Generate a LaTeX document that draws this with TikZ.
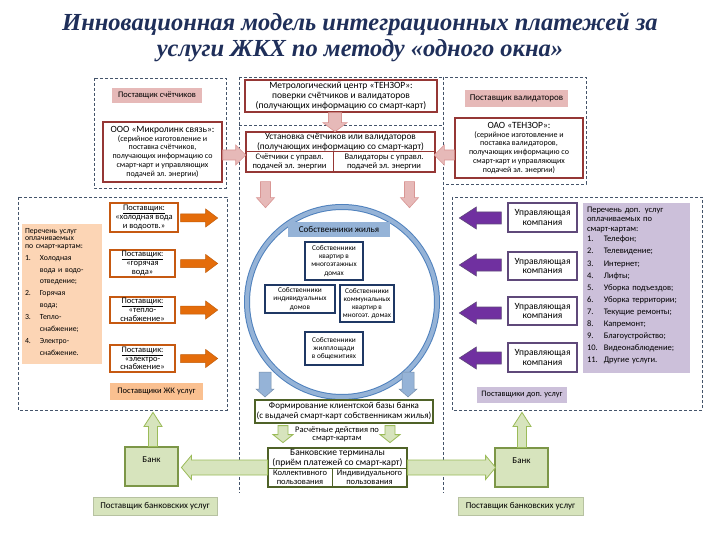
\documentclass[tikz,border=0pt]{standalone}
\usepackage{fontspec}
\setmainfont{Carlito}
\newfontfamily\titlefont{Liberation Serif}
\usetikzlibrary{calc}
\definecolor{dred}{HTML}{953735}
\definecolor{pinkF}{HTML}{E6B9B8}
\definecolor{pinkD}{HTML}{D99694}
\definecolor{orgF}{HTML}{E46C0A}
\definecolor{orgD}{HTML}{C65911}
\definecolor{peachL}{HTML}{FCD5B5}
\definecolor{peachM}{HTML}{FAC090}
\definecolor{blueF}{HTML}{95B3D7}
\definecolor{blueD}{HTML}{4F81BD}
\definecolor{navy}{HTML}{1F3864}
\definecolor{purF}{HTML}{7030A0}
\definecolor{purD}{HTML}{5F497A}
\definecolor{lavF}{HTML}{CCC0DA}
\definecolor{grnF}{HTML}{D7E4BD}
\definecolor{grnD}{HTML}{9BBB59}
\definecolor{olive}{HTML}{4F6228}
\definecolor{dashc}{HTML}{44546A}
\definecolor{titlec}{HTML}{1F2F5A}
\newcommand{\fatarrow}[7]{%
  \draw[#1,shift={#2},rotate=#3]
    (0,-#5) -- ({#4-#7},-#5) -- ({#4-#7},-#6) -- (#4,0)
    -- ({#4-#7},#6) -- ({#4-#7},#5) -- (0,#5) -- cycle;}
\begin{document}
\begin{tikzpicture}[x=1pt,y=-1pt,
  every node/.style={inner sep=1pt, align=center, font=\fontsize{8.5}{9.3}\selectfont},
  rbox/.style={draw=dred, fill=white, line width=1.4pt},
  obox/.style={draw=orgD, fill=white, line width=1.4pt, font=\fontsize{8.5}{8.8}\selectfont},
  nbox/.style={draw=navy, fill=white, line width=1.2pt, font=\fontsize{7.3}{8.2}\selectfont},
  pbox/.style={draw=purD, fill=white, line width=1.4pt, font=\fontsize{9.5}{9.8}\selectfont},
  gbox/.style={draw=olive, fill=white, line width=1.2pt},
  tagbox/.style={inner sep=0pt, font=\fontsize{8.5}{9}\selectfont},
  dsh/.style={draw=dashc, line width=0.6pt, dash pattern=on 3pt off 2pt},
  pinkarr/.style={fill=pinkF, draw=pinkD, line width=0.6pt},
  orgarr/.style={fill=orgF, draw=orgF!85!black, line width=0.5pt},
  purarr/.style={fill=purF, draw=purD, line width=0.6pt},
  bluarr/.style={fill=blueF, draw=blueF!80!black, line width=0.5pt},
  grnarr/.style={fill=grnF, draw=grnD, line width=0.8pt},
  bankbox/.style={fill=grnF, draw=grnD!80!black, line width=1.2pt, minimum width=53, minimum height=39},
  pbank/.style={fill=grnF, draw=grnF!85!black, line width=0.5pt, minimum height=18, font=\fontsize{9}{9.5}\selectfont}
]
\useasboundingbox (0,0) rectangle (720,540);
\fill[white] (0,0) rectangle (720,540);

% title
\node (title) [font=\titlefont\fontsize{24.5}{26}\selectfont\bfseries\itshape, text=titlec] at (360,37)
  {Инновационная модель интеграционных платежей за\\услуги ЖКХ по методу «одного окна»};

% dashed frames
\draw[dsh] (94,78) rectangle (226,188);
\draw[dsh] (443,77) rectangle (586,184);
\draw[dsh] (239,77) -- (443,77);
\draw[dsh] (239,77) -- (239,493);
\draw[dsh] (443,77) -- (443,493);
\draw[dsh] (239,125) -- (443,125);
\draw[dsh] (18,197) rectangle (227,410);
\draw[dsh] (452,197) rectangle (702,410);

% top row
\node (pc) [tagbox, fill=pinkF, minimum width=90, minimum height=15] at (157,95.5) {Поставщик счётчиков};
\node (ooo) [rbox, minimum width=119, minimum height=60, font=\fontsize{8}{8.9}\selectfont] at (162.5,152)
  {{\fontsize{9.5}{10}\selectfont ООО «Микролинк связь»:}\\(серийное изготовление и\\поставка счётчиков,\\получающих информацию со\\смарт-карт и управляющих\\подачей эл. энергии)};
\node (metro) [rbox, minimum width=192, minimum height=32, font=\fontsize{9.5}{9.8}\selectfont] at (341,96)
  {Метрологический центр «ТЕНЗОР»:\\поверки счётчиков и валидаторов\\(получающих информацию со смарт-карт)};
\node (inst) [rbox, minimum width=189, minimum height=40] at (340.5,152) {};
\node (instT) [font=\fontsize{9.3}{9.6}\selectfont] at (340.5,142)
  {Установка счётчиков или валидаторов\\(получающих информацию со смарт-карт)};
\node (instL) [draw=dred, line width=1pt, minimum width=87, minimum height=20, font=\fontsize{8.5}{8.6}\selectfont] at (289.5,162)
  {Счётчики с управл.\\подачей эл. энергии};
\node (instR) [draw=dred, line width=1pt, minimum width=102, minimum height=20, font=\fontsize{8.5}{8.6}\selectfont] at (384,162)
  {Валидаторы с управл.\\подачей эл. энергии};
\node (pv) [tagbox, fill=pinkF, minimum width=103, minimum height=17, font=\fontsize{9}{9}\selectfont] at (516.5,98.5) {Поставщик валидаторов};
\node (oao) [rbox, minimum width=128, minimum height=60, font=\fontsize{8}{8.9}\selectfont] at (519,148)
  {{\fontsize{9.5}{10}\selectfont ОАО «ТЕНЗОР»:}\\(серийное изготовление и\\поставка валидаторов,\\получающих информацию со\\смарт-карт и управляющих\\подачей эл. энергии)};

% left region
\node (list1) [fill=peachL, minimum width=80, minimum height=140, inner sep=0pt] at (62,294) {};
\node (list1t) [anchor=north west, text width=78, align=left, inner sep=0pt, font=\fontsize{7.8}{7.8}\selectfont]
  at ($(list1.north west)+(3,4)$)
  {Перечень услуг\\оплачиваемых\\по смарт-картам:\\[1pt]
   \renewcommand{\arraystretch}{1.52}%
   \begin{tabular}{@{}l@{\hspace{9pt}}l@{}}
   1.&Холодная\\ &вода и водо-\\ &отведение;\\
   2.&Горячая\\ &вода;\\
   3.&Тепло-\\ &снабжение;\\
   4.&Электро-\\ &снабжение.
   \end{tabular}};
\node (s1) [obox, minimum width=68, minimum height=29] at (144,217.5) {\underline{Поставщик:}\\«холодная вода\\и водоотв.»};
\node (s2) [obox, minimum width=65, minimum height=27] at (142.5,263.5) {\underline{Поставщик:}\\«горячая\\вода»};
\node (s3) [obox, minimum width=65, minimum height=26] at (142.5,310) {\underline{Поставщик:}\\«тепло-\\снабжение»};
\node (s4) [obox, minimum width=65, minimum height=27] at (142.5,358.5) {\underline{Поставщик:}\\«электро-\\снабжение»};
\node (pzk) [tagbox, fill=peachM, minimum width=93, minimum height=17] at (156.5,391.5) {Поставщики ЖК услуг};

% centre circle
\node (circ) [circle, draw=blueD, double=blueF, double distance=4pt, line width=1pt, fill=white, minimum size=190, inner sep=0pt] at (342,302) {};
\node (hdr) [fill=blueF, minimum width=102, minimum height=15, font=\fontsize{9}{9}\selectfont] at (339,229.5) {Собственники жилья};
\node (o1) [nbox, minimum width=58, minimum height=38] at (334,261) {Собственники\\квартир в\\многоэтажных\\домах};
\node (o2) [nbox, minimum width=70, minimum height=28] at (300,299) {Собственники\\индивидуальных\\домов};
\node (o3) [nbox, minimum width=54, minimum height=37] at (367,303.5) {Собственники\\коммунальных\\квартир в\\многоэт. домах};
\node (o4) [nbox, minimum width=58, minimum height=33] at (334,348.5) {Собственники\\жилплощади\\в общежитиях};

% bottom centre
\node (form) [gbox, minimum width=178, minimum height=23, font=\fontsize{9}{9.8}\selectfont] at (344,411.5)
  {Формирование клиентской базы банка\\(с выдачей смарт-карт собственникам жилья)};
\node (rasch) [font=\fontsize{8.5}{8.5}\selectfont] at (337,434.5) {Расчётные действия по\\смарт-картам};
\node (term) [gbox, minimum width=139, minimum height=39] at (337.5,467.5) {};
\node (termT) [font=\fontsize{9.5}{9.8}\selectfont] at (337.5,458) {Банковские терминалы\\(приём платежей со смарт-карт)};
\node (termL) [draw=olive, line width=1pt, minimum width=64, minimum height=19, font=\fontsize{8.5}{9}\selectfont] at (300,477.5) {Коллективного\\пользования};
\node (termR) [draw=olive, line width=1pt, minimum width=75, minimum height=19, font=\fontsize{8.5}{9}\selectfont] at (369.5,477.5) {Индивидуального\\пользования};

\node (bankL) [bankbox] at (151.5,466.5) {};
\node (bankLt) [font=\fontsize{9}{10}\selectfont] at ($(bankL.north)+(0,13)$) {Банк};
\node (bankR) [bankbox] at (521.5,467.5) {};
\node (bankRt) [font=\fontsize{9}{10}\selectfont] at ($(bankR.north)+(0,13)$) {Банк};
\node (pbL) [pbank, minimum width=124] at (155,506) {Поставщик банковских услуг};
\node (pbR) [pbank, minimum width=125] at (520.5,506) {Поставщик банковских услуг};

% right region
\node (uk1) [pbox, minimum width=69, minimum height=29] at (542.5,217.5) {Управляющая\\компания};
\node (uk2) [pbox, minimum width=69, minimum height=28] at (542.5,266) {Управляющая\\компания};
\node (uk3) [pbox, minimum width=69, minimum height=28] at (542.5,311) {Управляющая\\компания};
\node (uk4) [pbox, minimum width=69, minimum height=29] at (542.5,357.5) {Управляющая\\компания};
\node (list2) [fill=lavF, minimum width=107, minimum height=170, inner sep=0pt] at (636.5,288) {};
\node (list2t) [anchor=north west, text width=102, align=left, inner sep=0pt, font=\fontsize{8.5}{9.3}\selectfont]
  at ($(list2.north west)+(4,4)$)
  {Перечень доп. услуг\\оплачиваемых по\\смарт-картам:\\
   \renewcommand{\arraystretch}{1.3}%
   \begin{tabular}{@{}l@{\hspace{6pt}}l@{}}
   1.&Телефон;\\ 2.&Телевидение;\\ 3.&Интернет;\\ 4.&Лифты;\\
   5.&Уборка подъездов;\\ 6.&Уборка территории;\\ 7.&Текущие ремонты;\\
   8.&Капремонт;\\ 9.&Благоустройство;\\ 10.&Видеонаблюдение;\\ 11.&Другие услуги.
   \end{tabular}};
\node (pdop) [tagbox, fill=lavF, minimum width=90, minimum height=16, font=\fontsize{8.3}{9}\selectfont] at (522,395) {Поставщики доп. услуг};

% block arrows
\fatarrow{pinkarr}{($(ooo.east)+(0,3)$)}{0}{23}{5}{10}{10}
\fatarrow{pinkarr}{($(oao.west)+(0,7)$)}{180}{20}{5}{10}{10}
\fatarrow{pinkarr}{($(metro.south)+(-6,0)$)}{-90}{19}{6.5}{12}{9}
\fatarrow{pinkarr}{($(inst.south)+(-75,9)$)}{-90}{26}{5}{9}{10}
\fatarrow{pinkarr}{($(inst.south)+(69,9)$)}{-90}{26}{5}{9}{10}

\fatarrow{orgarr}{($(s1.east)+(2,0.5)$)}{0}{37}{4}{9}{12}
\fatarrow{orgarr}{($(s2.east)+(5,0)$)}{0}{37}{4}{9}{12}
\fatarrow{orgarr}{($(s3.east)+(5,0)$)}{0}{37}{4}{9}{12}
\fatarrow{orgarr}{($(s4.east)+(5,0)$)}{0}{37}{4}{9}{12}

\fatarrow{purarr}{($(uk1.west)+(-6,0.5)$)}{180}{42}{6}{11}{17}
\fatarrow{purarr}{($(uk2.west)+(-6,-1)$)}{180}{42}{6}{11}{17}
\fatarrow{purarr}{($(uk3.west)+(-6,2)$)}{180}{42}{6}{11}{17}
\fatarrow{purarr}{($(uk4.west)+(-6,0.5)$)}{180}{42}{6}{11}{17}

\fatarrow{bluarr}{($(circ.center)+(-77,70)$)}{-90}{25}{6}{9}{8}
\fatarrow{bluarr}{($(circ.center)+(66,70)$)}{-90}{25}{6}{9}{8}

\fatarrow{grnarr}{($(form.south)+(-61,2)$)}{-90}{17}{5}{10}{8}
\fatarrow{grnarr}{($(form.south)+(46,2)$)}{-90}{17}{5}{10}{8}
\fatarrow{grnarr}{(term.west)}{180}{86}{7.5}{12}{10}
\fatarrow{grnarr}{(term.east)}{0}{88}{7.5}{12}{10}
\fatarrow{grnarr}{($(bankL.north)+(1.5,0)$)}{90}{34}{4.5}{9}{14}
\fatarrow{grnarr}{($(bankR.north)+(0.5,0)$)}{90}{35}{4.5}{9}{14}
\end{tikzpicture}
\end{document}
